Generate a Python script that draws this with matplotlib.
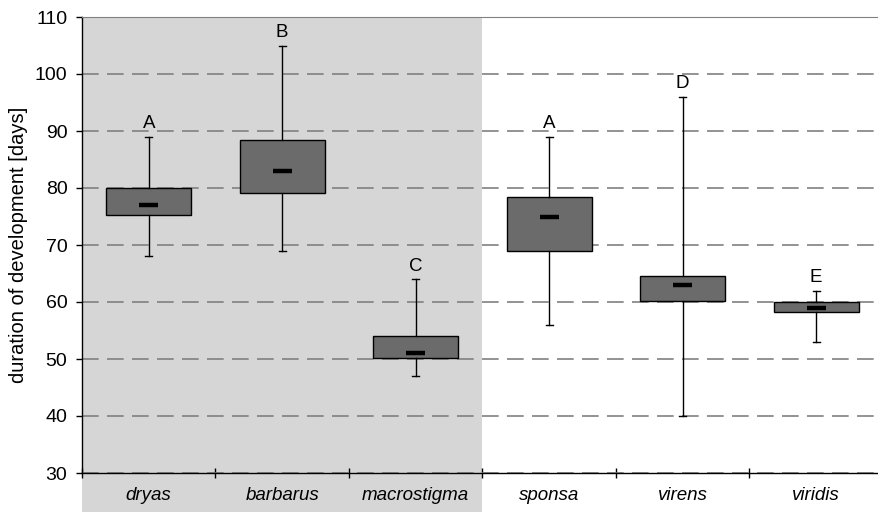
import matplotlib.pyplot as plt
from matplotlib.patches import Rectangle
import matplotlib.transforms as mtransforms

plt.rcParams['font.family'] = ['Liberation Sans', 'DejaVu Sans']

# %% data
species = ['dryas', 'barbarus', 'macrostigma', 'sponsa', 'virens', 'viridis']
whisk_lo = [68, 69, 47, 56, 40, 53]
q1 = [75.2, 79.2, 50.2, 69.0, 60.2, 58.2]
median = [77, 83, 51, 75, 63, 59]
q3 = [80.0, 88.5, 54.0, 78.5, 64.5, 60.0]
whisk_hi = [89, 105, 64, 89, 96, 62]
letters = ['A', 'B', 'C', 'A', 'D', 'E']
n_shaded = 3

# %%
fig = plt.figure(figsize=(8.79, 5.12), dpi=100)
ax = fig.add_axes([82 / 879, 39 / 512, 801 / 879, 456 / 512])

pos = list(range(1, len(species) + 1))
stats = []
for i in range(len(species)):
    stats.append(dict(med=median[i], q1=q1[i], q3=q3[i],
                      whislo=whisk_lo[i], whishi=whisk_hi[i], label=species[i]))

ax.bxp(stats, positions=pos, widths=0.64, patch_artist=True,
       showfliers=False,
       boxprops=dict(facecolor='#6b6b6b', edgecolor='black', linewidth=1.0),
       whiskerprops=dict(color='black', linewidth=1.0),
       capprops=dict(color='black', linewidth=1.0),
       capwidths=0.05,
       medianprops=dict(visible=False), zorder=3)

# short thick median bars
ax.hlines(median, [p - 0.07 for p in pos], [p + 0.07 for p in pos],
          colors='black', linewidth=3.2, zorder=4)

# significance letters
for p, hi, lab in zip(pos, whisk_hi, letters):
    ax.text(p, hi + 1.5, lab, ha='center', va='baseline', fontsize=13.5, zorder=5)

# grey shading for the first group, running below the axis
trans = mtransforms.blended_transform_factory(ax.transData, ax.transAxes)
ax.add_patch(Rectangle((0.5, -0.1), n_shaded, 1.1, transform=trans,
                       facecolor='#d6d6d6', edgecolor='none', zorder=0,
                       clip_on=False))

ax.set_xlim(0.5, len(species) + 0.5)
ax.set_ylim(30, 110)
ax.set_yticks(range(30, 111, 10))
ax.yaxis.grid(True, color='#808080', linestyle=(0, (10, 5)), linewidth=1.2, zorder=1)
ax.set_axisbelow(True)

ax.set_xticks([p + 0.5 for p in pos[:-1]] + [0.5])
ax.set_xticklabels([])
ax.set_xticks(pos, minor=True)
ax.set_xticklabels(species, minor=True, style='italic', fontsize=13.5)
ax.tick_params(axis='x', which='minor', length=0, pad=10)
ax.tick_params(axis='x', which='major', direction='inout', length=7, width=1.0)
ax.tick_params(axis='y', direction='out', length=4.5, width=1.0, labelsize=14, pad=6)

ax.spines['top'].set_color('#808080')
ax.spines['right'].set_visible(False)
ax.spines['left'].set_linewidth(1.0)
ax.spines['bottom'].set_linewidth(1.0)

ax.set_ylabel('duration of development [days]', fontsize=14.5, labelpad=5)

fig.savefig('out.png', dpi=100)
